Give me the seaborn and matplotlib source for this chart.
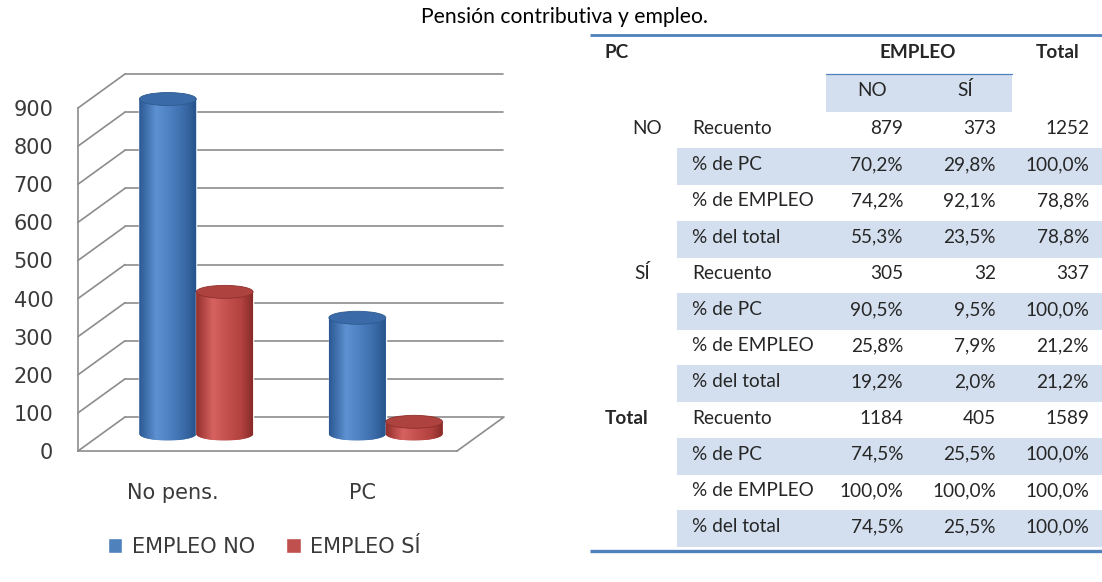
import numpy as np
import pandas as pd
import matplotlib
matplotlib.use("Agg")
import matplotlib.pyplot as plt
import seaborn as sns
from matplotlib.patches import Ellipse, Rectangle, PathPatch
from matplotlib.path import Path
from matplotlib.colors import LinearSegmentedColormap

# ---------------- data ----------------
title = "Pensión contributiva y empleo."
categories = ["No pens.", "PC"]
series = ["EMPLEO NO", "EMPLEO SÍ"]
empleo_no = [879, 305]
empleo_si = [373, 32]
y_ticks = [0, 100, 200, 300, 400, 500, 600, 700, 800, 900]

group_labels = ["NO", "SÍ", "Total"]
stat_labels = ["Recuento", "% de PC", "% de EMPLEO", "% del total"]
col_headers = ["NO", "SÍ"]
tab_no = [879, 70.2, 74.2, 55.3, 305, 90.5, 25.8, 19.2, 1184, 74.5, 100.0, 74.5]
tab_si = [373, 29.8, 92.1, 23.5, 32, 9.5, 7.9, 2.0, 405, 25.5, 100.0, 25.5]
tab_total = [1252, 100.0, 78.8, 78.8, 337, 100.0, 21.2, 21.2, 1589, 100.0, 100.0, 100.0]

# ---------------- style ----------------
sns.set_style("white")
plt.rcParams['font.family'] = ['Lato', 'DejaVu Sans']
W, H = 1102, 582
fig = plt.figure(figsize=(W / 100, H / 100), dpi=100)

BLUE = "#4F81BD"
RED = "#C0504D"
GRAY = "#8C8C8C"
LABEL = "#3a3a3a"
CHART_FONT = ['DejaVu Sans']
CFS = 15

# ---------------- chart ----------------
x0px, x1px, y0px, y900px = 78, 457, 451, 108
px_x = (x1px - x0px) / 2.0
px_y = (y0px - y900px) / 900.0
ytop = 1000
ax = fig.add_axes([x0px / W, (H - y0px) / H, (x1px - x0px) / W, (ytop * px_y) / H])

df = pd.DataFrame({
    "cat": categories * 2,
    "val": empleo_no + empleo_si,
    "serie": [series[0]] * len(categories) + [series[1]] * len(categories),
})
sns.barplot(data=df, x="cat", y="val", hue="serie", order=categories, hue_order=series,
            palette=[BLUE, RED], width=0.6, saturation=1, ax=ax, legend=True)

# pseudo-3D geometry (wall depth offsets in data units)
wx, wy = 47 / px_x, 34 / px_y
dx, dy = wx / 2, wy / 2
eh = 13 / px_y

# back wall + side lines
xr = (503 - x0px) / px_x - 0.5
for v in y_ticks:
    ax.plot([-0.5 + wx, xr], [v + wy, v + wy], color=GRAY, lw=1.2, zorder=1, clip_on=False)
    ax.plot([-0.5, -0.5 + wx], [v, v + wy], color=GRAY, lw=1.2, zorder=1, clip_on=False)
ax.plot([1.5, 1.5 + wx], [0, wy], color=GRAY, lw=1.2, zorder=1, clip_on=False)

grads = {
    BLUE: (["#2b5891", "#5d91d2", "#4d80c1", "#3a6aa8", "#28548b"], "#3a6aa7", "#2e5a90"),
    RED: (["#94302d", "#d6625f", "#c4504d", "#b1423f", "#872a28"], "#ad423f", "#8f2f2c"),
}
gvals = np.linspace(0, 1, 256).reshape(1, -1)
for ci, (cont, col) in enumerate(zip(ax.containers, [BLUE, RED])):
    stops, top_c, edge_c = grads[col]
    cmap = LinearSegmentedColormap.from_list("c%d" % ci, list(zip([0, 0.3, 0.55, 0.8, 1.0], stops)))
    for bar in cont:
        bx = bar.get_x() + dx
        bw = bar.get_width()
        bh = bar.get_height()
        bar.set_x(bx)
        bar.set_y(dy)
        bar.set_zorder(2 + ci)
        yb, yt = dy, dy + bh
        xc = bx + bw / 2
        t = np.linspace(np.pi, 2 * np.pi, 60)
        verts = [(bx, yt), (bx, yb)] + list(zip(xc + bw / 2 * np.cos(t), yb + eh / 2 * np.sin(t))) + [(bx + bw, yt), (bx, yt)]
        cyl = PathPatch(Path(verts), facecolor=col, edgecolor="none", transform=ax.transData, zorder=2 + ci)
        ax.add_patch(cyl)
        im = ax.imshow(gvals, extent=[bx, bx + bw, yb - eh / 2, yt], aspect="auto", cmap=cmap,
                       zorder=2 + ci + 0.1, interpolation="bilinear")
        im.set_clip_path(cyl)
        ax.add_patch(Ellipse((xc, yt), bw, eh, facecolor=top_c, edgecolor=edge_c, lw=0.6, zorder=2 + ci + 0.2))

ax.set_xlim(-0.5, 1.5)
ax.set_ylim(0, ytop)
for s in ["top", "right"]:
    ax.spines[s].set_visible(False)
for s in ["left", "bottom"]:
    ax.spines[s].set_color(GRAY)
    ax.spines[s].set_linewidth(1.2)
ax.spines["left"].set_bounds(0, 900)
ax.set_yticks(y_ticks)
ax.set_yticklabels([str(v) for v in y_ticks], family=CHART_FONT)
ax.tick_params(axis="y", length=5.8, width=1.2, color=GRAY, pad=12, labelsize=CFS, labelcolor=LABEL)
ax.set_xticks(range(len(categories)))
ax.set_xticklabels(categories, family=CHART_FONT)
ax.set_xticks([-0.5, 0.5, 1.5], minor=True)
ax.tick_params(axis="x", which="major", length=0, pad=23, labelsize=CFS, labelcolor=LABEL)
ax.tick_params(axis="x", which="minor", length=5.8, width=1.2, color=GRAY, direction="out")
ax.set_xlabel("")
ax.set_ylabel("")
ax.patch.set_alpha(0)

sns.move_legend(ax, loc="center", bbox_to_anchor=(264 / W, 1 - 547 / H), bbox_transform=fig.transFigure,
                ncol=2, frameon=False, title=None, handlelength=0.7, handleheight=0.7,
                handletextpad=0.45, columnspacing=1.5, labelcolor=LABEL,
                prop={'family': CHART_FONT, 'size': CFS})

# ---------------- title ----------------
fig.text(564 / W, 1 - 17 / H, title, ha="center", va="center", fontsize=15.2, color="black")

# ---------------- table ----------------
tax = fig.add_axes([0, 0, 1, 1], zorder=-1)
tax.set_xlim(0, W)
tax.set_ylim(H, 0)
tax.axis("off")

LINE = "#4F81BD"
SHADE = "#D3DFEE"
FS = 13.7
tax.plot([590, W], [35, 35], color=LINE, lw=2.0, solid_capstyle="butt")
tax.plot([590, W], [551, 551], color=LINE, lw=2.4, solid_capstyle="butt")
tax.add_patch(Rectangle((826, 73.5), 1012 - 826, 112 - 73.5, facecolor=SHADE, edgecolor="none"))
tax.plot([826, 1012], [73.5, 73.5], color=LINE, lw=0.9)

cap = 7
tax.text(605, 51 + cap, "PC", ha="left", va="baseline", fontsize=FS, fontweight="bold")
tax.text(918, 51 + cap, "EMPLEO", ha="center", va="baseline", fontsize=FS, fontweight="bold")
tax.text(1080, 51 + cap, "Total", ha="right", va="baseline", fontsize=FS, fontweight="bold")
for xh, lab in zip([872, 965], col_headers):
    tax.text(xh, 89.5 + cap, lab, ha="center", va="baseline", fontsize=FS)

def fmt(v, k):
    if k % 4 == 0:
        return str(int(v))
    return ("%.1f%%" % v).replace(".", ",")

row_h = 36.2
for k in range(12):
    c = 127 + row_h * k
    if k % 2 == 1:
        tax.add_patch(Rectangle((677, c - 15), W - 677, 37, facecolor=SHADE, edgecolor="none"))
    tax.text(692, c + cap, stat_labels[k % 4], ha="left", va="baseline", fontsize=FS)
    for xv, col in zip([903, 996, 1089], [tab_no, tab_si, tab_total]):
        tax.text(xv, c + cap, fmt(col[k], k), ha="right", va="baseline", fontsize=FS)

for gi, (lab, xg) in enumerate(zip(group_labels, [662, 650, 605])):
    c = 127 + row_h * 4 * gi
    if lab == "Total":
        tax.text(xg, c + cap, lab, ha="left", va="baseline", fontsize=FS, fontweight="bold")
    else:
        tax.text(xg, c + cap, lab, ha="right", va="baseline", fontsize=FS)

fig.savefig("out.png", dpi=100)
